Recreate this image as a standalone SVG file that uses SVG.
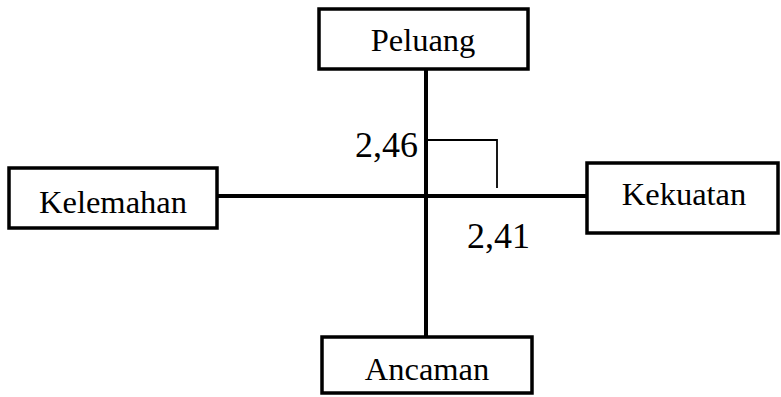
<svg xmlns="http://www.w3.org/2000/svg" width="781" height="397" viewBox="0 0 781 397">
<style>
.box{fill:#fff;stroke:#000;stroke-width:3.5}
.lbl{font-family:"Liberation Serif",serif;font-size:32.5px;fill:#000;text-anchor:middle}
.num{font-family:"Liberation Serif",serif;font-size:36px;fill:#000}
.axis{stroke:#000;stroke-width:4;fill:none}
.thin{stroke:#000;stroke-width:1.8;fill:none}
</style>
<rect width="781" height="397" fill="#fff"/>
<g id="connectors">
<line class="axis" x1="426" y1="69" x2="426" y2="337"/>
<line class="axis" x1="217" y1="196" x2="587" y2="196"/>
<polyline class="thin" points="428,140 497,140 497,188"/>
</g>
<g id="peluang">
<rect class="box" x="319" y="9" width="209" height="60"/>
<text class="lbl" x="423" y="51">Peluang</text>
</g>
<g id="kelemahan">
<rect class="box" x="9" y="168" width="208" height="60"/>
<text class="lbl" x="113" y="213">Kelemahan</text>
</g>
<g id="kekuatan">
<rect class="box" x="587" y="163" width="191" height="70"/>
<text class="lbl" x="684" y="205">Kekuatan</text>
</g>
<g id="ancaman">
<rect class="box" x="322" y="337" width="210" height="56"/>
<text class="lbl" x="427" y="380">Ancaman</text>
</g>
<g id="values">
<text class="num" x="418" y="157" text-anchor="end">2,46</text>
<text class="num" x="467" y="248">2,41</text>
</g>
</svg>
